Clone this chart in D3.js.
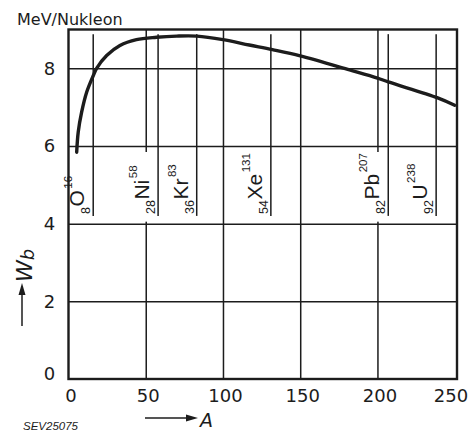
<!DOCTYPE html>
<html>
<head>
<meta charset="utf-8">
<script src="https://cdn.jsdelivr.net/npm/d3@7"></script>
<style>
  html, body { margin: 0; padding: 0; background: #fff; }
  svg { display: block; }
</style>
</head>
<body>
<script>
// ---- data ----
const massA    = [5.3, 6.3, 8.5, 11.8, 16, 18.2, 24.7, 33.3, 44, 57, 70, 83, 100, 117, 132, 150, 182, 200, 207, 239, 250];
const bindingE = [5.84, 6.36, 6.87, 7.39, 7.81, 8.0, 8.33, 8.59, 8.74, 8.8, 8.83, 8.83, 8.74, 8.6, 8.48, 8.32, 7.96, 7.75, 7.65, 7.24, 7.05];

const nuclides      = ["O", "Ni", "Kr", "Xe", "Pb", "U"];
const massNumbers   = [16, 58, 83, 131, 207, 238];
const atomicNumbers = [8, 28, 36, 54, 82, 92];

const xTicks = [0, 50, 100, 150, 200, 250];
const yTicks = [0, 2, 4, 6, 8];

const unitLabel = "MeV/Nukleon";
const xTitle = "A";
const yTitleMain = "W";
const yTitleSub = "b";
const figCode = "SEV25075";

// ---- layout ----
const W = 470, H = 433;
const ink = "#1c1c1c";
const svg = d3.select("body").append("svg").attr("width", W).attr("height", H);
svg.append("rect").attr("width", W).attr("height", H).attr("fill", "#fff");

const x = d3.scaleLinear().domain([0, 251.5]).range([68.5, 457]);
const y = d3.scaleLinear().domain([0, 9]).range([379, 29.5]);
const plotW = x(251.5) - x(0), plotH = y(0) - y(9);

// ---- grid via axes ----
const gx = svg.append("g").attr("transform", `translate(0,${y(0)})`)
  .call(d3.axisBottom(x).tickValues(xTicks).tickSizeInner(-plotH).tickSizeOuter(0).tickPadding(10));
const gy = svg.append("g").attr("transform", `translate(${x(0)},0)`)
  .call(d3.axisLeft(y).tickValues(yTicks).tickSizeInner(-plotW).tickSizeOuter(0).tickPadding(14));

[gx, gy].forEach(g => {
  g.select(".domain").remove();
  g.selectAll(".tick line").attr("stroke", ink).attr("stroke-width", 1.5);
  g.selectAll(".tick text").attr("fill", ink).attr("font-size", 18)
    .attr("font-family", "DejaVu Sans, sans-serif");
});
gx.selectAll(".tick").filter(d => d === 0 || d === 250).select("line").remove();
gy.selectAll(".tick").filter(d => d === 0).select("line").remove();
gx.selectAll(".tick text").attr("dx", 2);
gx.selectAll(".tick").filter(d => d === 250).select("text").attr("text-anchor", "end").attr("dx", 13);
gy.selectAll(".tick text").attr("text-anchor", "middle").attr("dx", -5);
gy.selectAll(".tick").filter(d => d === 0).select("text").attr("dy", "0.05em");

// ---- nuclide labels (white masks behind, lines, text) ----
const maskLayer = svg.append("g");
const lineLayer = svg.append("g");
const textLayer = svg.append("g");
nuclides.forEach((sym, i) => {
  const lx = x(massNumbers[i]);
  maskLayer.append("rect")
    .attr("x", lx - 31).attr("y", y(6) + 6)
    .attr("width", 30).attr("height", y(4) - y(6) - 8)
    .attr("fill", "#fff");
  lineLayer.append("line")
    .attr("x1", lx).attr("x2", lx)
    .attr("y1", y(8.88)).attr("y2", y(4.2))
    .attr("stroke", ink).attr("stroke-width", 1.5);
  const g = textLayer.append("g").attr("transform", `translate(${lx},${y(4.25)}) rotate(-90)`);
  const t = g.append("text").attr("font-family", "Liberation Sans, Arial, sans-serif").attr("fill", ink);
  t.append("tspan").attr("y", -3).attr("font-size", 12.5).text(atomicNumbers[i]);
  t.append("tspan").attr("y", -9).attr("font-size", 21).attr("dx", 0.5).text(sym);
  t.append("tspan").attr("y", -21).attr("font-size", 11.5).attr("dx", 1.5).text(massNumbers[i]);
});

// ---- frame ----
svg.append("rect")
  .attr("x", x(0)).attr("y", y(9)).attr("width", plotW).attr("height", plotH)
  .attr("fill", "none").attr("stroke", ink).attr("stroke-width", 2.4);

// ---- curve ----
const pts = massA.map((a, i) => [a, bindingE[i]]);
svg.append("path")
  .attr("d", d3.line().x(d => x(d[0])).y(d => y(d[1])).curve(d3.curveCatmullRom.alpha(0.5))(pts))
  .attr("fill", "none").attr("stroke", ink).attr("stroke-width", 3.4)
  .attr("stroke-linecap", "round").attr("stroke-linejoin", "round");

// ---- titles ----
svg.append("text").attr("x", 17).attr("y", 25)
  .attr("font-family", "DejaVu Sans, sans-serif").attr("font-size", 16).attr("fill", ink)
  .text(unitLabel);

// x axis arrow + title
svg.append("line").attr("x1", 145).attr("x2", 189).attr("y1", 418).attr("y2", 418)
  .attr("stroke", ink).attr("stroke-width", 1.5);
svg.append("path").attr("d", "M186,414.5 L198,418 L186,421.5 Z").attr("fill", ink);
svg.append("text").attr("x", 200).attr("y", 427)
  .attr("font-family", "DejaVu Sans, sans-serif").attr("font-style", "italic")
  .attr("font-size", 19).attr("fill", ink).text(xTitle);

// y axis arrow + title
svg.append("line").attr("x1", 22).attr("x2", 22).attr("y1", 326).attr("y2", 292)
  .attr("stroke", ink).attr("stroke-width", 1.5);
svg.append("path").attr("d", "M18.5,295 L22,283 L25.5,295 Z").attr("fill", ink);
const yt = svg.append("text").attr("transform", "translate(32,282) rotate(-90)")
  .attr("font-family", "DejaVu Sans, sans-serif").attr("font-style", "italic").attr("fill", ink);
yt.append("tspan").attr("font-size", 22).text(yTitleMain);
yt.append("tspan").attr("font-size", 18).attr("dy", 2).text(yTitleSub);

// figure code
svg.append("text").attr("x", 23).attr("y", 429.5)
  .attr("font-family", "Liberation Sans, Arial, sans-serif").attr("font-style", "italic")
  .attr("font-size", 11.5).attr("fill", ink).text(figCode);
</script>
</body>
</html>
